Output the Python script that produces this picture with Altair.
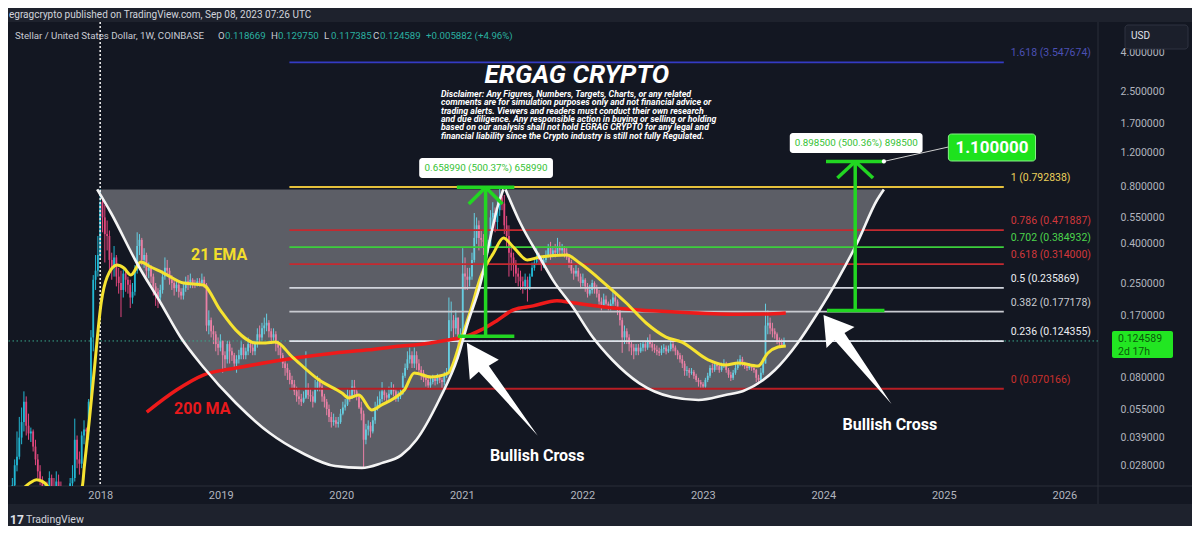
import altair as alt
import numpy as np
import pandas as pd

# ---------------- data ----------------
WEEK_START = "2017-04-10"      # weekly candles, XLM/USD
FIRST_OPEN_E4 = 150            # prices below are in units of 1e-4 USD

close_e4 = [
    220, 280, 310, 390, 470, 600, 450, 410, 420, 350,
    300, 260, 235, 180, 200, 195, 240, 215, 205, 230,
    215, 190, 175, 185, 195, 225, 240, 380, 300, 285,
    400, 430, 420, 600, 1300, 2600, 2900, 3500, 6600, 5500,
    4500, 4400, 3300, 3000, 3400, 2700, 2500, 2300, 2800, 2600,
    2450, 2100, 2250, 2900, 3900, 4200, 3300, 3500, 2900, 3000,
    2700, 2400, 2250, 2100, 2300, 2700, 3000, 2900, 2600, 2500,
    2350, 2450, 2250, 2150, 2350, 2550, 2450, 2600, 2500, 2450,
    2550, 2500, 2600, 2450, 1500, 1600, 1400, 1350, 1200, 1150,
    1250, 1050, 1000, 1200, 1100, 1050, 950, 1000, 1050, 1150,
    1050, 1100, 1200, 1150, 1100, 1200, 1350, 1300, 1450, 1500,
    1550, 1400, 1300, 1350, 1200, 1150, 1050, 950, 900, 850,
    780, 740, 680, 640, 620, 600, 630, 700, 650, 640,
    600, 700, 760, 720, 640, 600, 550, 500, 470, 480,
    460, 470, 520, 560, 580, 650, 630, 720, 680, 640,
    560, 520, 380, 430, 450, 420, 480, 560, 580, 620,
    680, 650, 630, 660, 700, 680, 620, 640, 660, 820,
    900, 1000, 1050, 950, 1050, 950, 880, 850, 800, 780,
    730, 760, 790, 770, 800, 780, 760, 820, 850, 1600,
    1600, 1450, 1650, 1250, 1300, 2800, 2700, 2600, 2700, 3300,
    4300, 5000, 4300, 4200, 4100, 3800, 3900, 5500, 5800, 5200,
    6000, 7000, 6500, 5000, 4400, 3600, 3400, 3100, 2800, 2700,
    2550, 2400, 2600, 2350, 2700, 3000, 3200, 3400, 3300, 3100,
    3300, 3500, 3800, 3500, 3700, 3600, 3900, 3700, 3800, 3600,
    3400, 3200, 2900, 2800, 2900, 2700, 2500, 2600, 2400, 2200,
    2300, 2500, 2350, 2200, 2000, 1900, 2050, 1950, 1850, 1950,
    2100, 2000, 1800, 1600, 1300, 1400, 1300, 1200, 1150, 1100,
    1150, 1100, 1150, 1200, 1150, 1250, 1200, 1150, 1120, 1100,
    1080, 1130, 1150, 1100, 1130, 1200, 1150, 1100, 1050, 1000,
    950, 870, 880, 850, 860, 820, 780, 760, 740, 720,
    780, 820, 900, 880, 940, 920, 880, 920, 950, 880,
    830, 800, 850, 900, 940, 1000, 950, 920, 900, 920,
    900, 880, 800, 780, 850, 950, 1500, 1550, 1450, 1400,
    1350, 1250, 1220, 1186.69, 1245.89]

high_e4 = [
    240, 300, 420, 500, 560, 680, 640, 520, 440, 430,
    380, 320, 280, 245, 220, 230, 260, 250, 240, 260,
    250, 230, 210, 200, 215, 240, 280, 490, 400, 330,
    420, 480, 440, 620, 1420, 2750, 3500, 4400, 7700, 7000,
    6400, 5300, 4700, 3600, 3900, 3500, 3000, 2900, 2950, 2900,
    2700, 2600, 2500, 3100, 4600, 4500, 4300, 3800, 3600, 3200,
    3100, 2800, 2500, 2350, 2450, 2900, 3400, 3300, 3000, 2750,
    2600, 2600, 2500, 2350, 2500, 2700, 2750, 2800, 2650, 2600,
    2650, 2650, 2800, 2700, 2500, 1800, 1650, 1500, 1400, 1300,
    1350, 1250, 1100, 1250, 1250, 1150, 1080, 1050, 1120, 1250,
    1200, 1150, 1300, 1250, 1200, 1250, 1450, 1500, 1550, 1650,
    1730, 1600, 1450, 1450, 1400, 1250, 1200, 1080, 1000, 950,
    880, 820, 780, 720, 700, 660, 680, 1100, 750, 700,
    680, 780, 820, 800, 740, 660, 620, 580, 530, 520,
    500, 500, 550, 600, 620, 700, 690, 780, 780, 700,
    660, 600, 540, 460, 480, 470, 500, 600, 640, 680,
    760, 700, 670, 720, 760, 740, 700, 680, 700, 850,
    950, 1100, 1150, 1100, 1150, 1100, 1000, 920, 880, 830,
    800, 800, 830, 820, 840, 830, 800, 860, 900, 2100,
    2000, 1700, 1800, 1650, 1450, 3800, 3400, 3000, 3000, 3600,
    5800, 5500, 5300, 4700, 4500, 4300, 4200, 6000, 6600, 6200,
    6800, 7900, 7600, 7200, 5600, 5000, 4000, 3600, 3300, 3000,
    2900, 2700, 2800, 2700, 2800, 3200, 3400, 3800, 3600, 3400,
    3500, 3700, 4000, 4100, 3900, 4000, 4300, 4100, 4000, 3900,
    3800, 3500, 3300, 3000, 3100, 3000, 2800, 2800, 2650, 2500,
    2450, 2600, 2550, 2450, 2300, 2100, 2200, 2150, 2000, 2050,
    2300, 2250, 2050, 1850, 1650, 1500, 1450, 1350, 1250, 1200,
    1200, 1200, 1220, 1250, 1250, 1300, 1350, 1250, 1200, 1180,
    1150, 1180, 1200, 1180, 1180, 1260, 1230, 1180, 1120, 1080,
    1050, 980, 920, 900, 900, 880, 840, 800, 780, 760,
    800, 850, 930, 950, 980, 960, 940, 960, 1000, 970,
    900, 860, 880, 950, 1000, 1050, 1030, 970, 950, 950,
    940, 920, 890, 830, 900, 1020, 1950, 1800, 1650, 1550,
    1450, 1380, 1300, 1280, 1297.50]

low_e4 = [
    140, 200, 260, 300, 360, 420, 400, 380, 370, 330,
    280, 240, 220, 160, 150, 180, 185, 200, 190, 195,
    200, 170, 150, 160, 175, 185, 210, 230, 270, 250,
    270, 360, 330, 380, 560, 1100, 2300, 2700, 3300, 4600,
    3200, 3700, 2900, 2600, 2700, 2400, 2200, 1660, 2100, 2250,
    2200, 1850, 1950, 2150, 2800, 3500, 3100, 3000, 2700, 2650,
    2500, 2150, 1900, 1850, 2000, 2200, 2600, 2700, 2450, 2300,
    2150, 2250, 2100, 2050, 2050, 2250, 2300, 2350, 2350, 2350,
    2400, 2400, 2450, 2350, 1400, 1350, 1300, 1200, 1100, 1050,
    1100, 850, 900, 950, 950, 980, 880, 850, 950, 1000,
    1000, 1000, 1050, 1080, 1050, 1050, 1150, 1200, 1250, 1350,
    1400, 1300, 1200, 1250, 1100, 1050, 1000, 900, 820, 780,
    740, 700, 650, 600, 580, 570, 590, 620, 620, 600,
    560, 590, 680, 680, 600, 560, 510, 470, 440, 450,
    440, 440, 460, 510, 540, 570, 600, 620, 650, 610,
    550, 480, 270, 360, 400, 390, 410, 460, 540, 570,
    600, 610, 600, 610, 650, 640, 600, 600, 620, 650,
    800, 880, 950, 900, 900, 880, 850, 780, 760, 720,
    700, 700, 740, 730, 740, 750, 700, 730, 800, 850,
    1400, 1300, 1350, 1000, 1150, 1300, 2300, 2300, 2400, 2600,
    3200, 4000, 3700, 3800, 3500, 3500, 3600, 3800, 5000, 4600,
    4700, 5600, 6000, 4500, 3800, 2700, 2900, 2700, 2500, 2400,
    2300, 2200, 2300, 2000, 2300, 2700, 2900, 3100, 3100, 2900,
    3000, 3200, 3400, 3300, 3400, 3400, 3500, 3500, 3500, 3400,
    3300, 3000, 2800, 2600, 2700, 2550, 2350, 2400, 2250, 2100,
    2150, 2200, 2200, 2100, 1850, 1800, 1850, 1900, 1800, 1800,
    1900, 1900, 1700, 1500, 1080, 1200, 1200, 1100, 1050, 1000,
    1050, 1050, 1080, 1100, 1100, 1120, 1150, 1100, 1080, 1050,
    1040, 1050, 1080, 1060, 1080, 1100, 1100, 1050, 1000, 960,
    900, 820, 820, 800, 830, 790, 760, 720, 710, 700,
    710, 760, 800, 850, 860, 880, 850, 860, 900, 850,
    800, 770, 780, 830, 880, 920, 920, 890, 870, 880,
    870, 850, 760, 740, 770, 830, 1000, 1350, 1350, 1300,
    1280, 1200, 1150, 1150, 1173.85]

# 21 EMA (yellow) and 200 MA (red), read as (decimal year, price)
ema_year = [2017.334, 2017.416, 2017.474, 2017.540, 2017.622, 2017.786, 2017.852, 2017.868,
            2017.910, 2017.951, 2018.008, 2018.058, 2018.140, 2018.197, 2018.255, 2018.337,
            2018.419, 2018.526, 2018.691, 2018.855, 2018.995, 2019.126, 2019.291, 2019.373,
            2019.455, 2019.595, 2019.817, 2020.006, 2020.064, 2020.146, 2020.253, 2020.335,
            2020.442, 2020.524, 2020.606, 2020.746, 2020.886, 2020.993, 2021.075, 2021.157,
            2021.264, 2021.346, 2021.428, 2021.544, 2021.650, 2021.872, 2021.979, 2022.201,
            2022.366, 2022.530, 2022.695, 2022.826, 2023.048, 2023.188, 2023.295, 2023.459,
            2023.541, 2023.624, 2023.689]
ema_price = [0.0203, 0.0226, 0.0235, 0.0226, 0.0196, 0.0192, 0.0218, 0.0274,
             0.0482, 0.0879, 0.1966, 0.2687, 0.3103, 0.2994, 0.2752, 0.3217,
             0.3030, 0.2819, 0.2500, 0.2440, 0.181, 0.142, 0.1216, 0.1216,
             0.1230, 0.1027, 0.0779, 0.0666, 0.0628, 0.0651, 0.0543, 0.0577,
             0.0628, 0.0691, 0.0847, 0.0808, 0.0847, 0.126, 0.181, 0.2687,
             0.3585, 0.4293, 0.3853, 0.330, 0.3417, 0.3500, 0.3179, 0.2440,
             0.1966, 0.1546, 0.1306, 0.1230, 0.0991, 0.0933, 0.0956, 0.0922,
             0.1078, 0.1159, 0.1173]
ma_year = [2018.386, 2018.633, 2018.855, 2019.126, 2019.406, 2019.677, 2019.949, 2020.228,
           2020.499, 2020.606, 2020.886, 2021.017, 2021.157, 2021.297, 2021.428, 2021.593,
           2021.790, 2021.922, 2022.201, 2022.472, 2022.743, 2023.295, 2023.517, 2023.689]
ma_price = [0.0530, 0.0691, 0.0827, 0.0900, 0.0967, 0.1027, 0.1078, 0.112,
            0.1173, 0.1187, 0.126, 0.1306, 0.142, 0.160, 0.181, 0.190,
            0.202, 0.197, 0.187, 0.181, 0.177, 0.172, 0.1722, 0.1743]

# the two drawn "cups" (decimal year, price); the fill reaches up to CUP_TOP
CUP_TOP = 0.77
cup1_year = [2017.975, 2018.090, 2018.304, 2018.502, 2018.666, 2018.855, 2019.126, 2019.406,
             2019.677, 2019.949, 2020.171, 2020.335, 2020.499, 2020.623, 2020.812, 2020.968,
             2021.050, 2021.157, 2021.239, 2021.297, 2021.346]
cup1_price = [0.77, 0.580, 0.318, 0.1966, 0.1306, 0.0911, 0.0591, 0.0412,
              0.0324, 0.0277, 0.0271, 0.0287, 0.0316, 0.0379, 0.0613, 0.1027,
              0.1546, 0.250, 0.4345, 0.6232, 0.77]
cup2_year = [2021.363, 2021.486, 2021.650, 2021.757, 2021.922, 2022.086, 2022.250, 2022.472,
             2022.743, 2022.965, 2023.188, 2023.336, 2023.599, 2023.788, 2023.953, 2024.117,
             2024.281, 2024.446, 2024.503]
cup2_price = [0.77, 0.514, 0.3376, 0.259, 0.1874, 0.1306, 0.0991, 0.0751,
              0.0635, 0.0613, 0.0651, 0.0683, 0.0879, 0.1216, 0.1743, 0.259,
              0.4043, 0.678, 0.77]

# Fibonacci levels
fib_ratio = ["1.618", "1", "0.786", "0.702", "0.618", "0.5", "0.382", "0.236", "0"]
fib_price = [3.547674, 0.792838, 0.471887, 0.384932, 0.314000, 0.235869, 0.177178, 0.124355, 0.070166]
FIB_FROM, FIB_TO, FIB_LABEL_AT = 2019.570, 2025.498, 2025.555

# measured moves (start price, move) and their anchors in time
move_start = [0.13170, 0.17957]
move_size = [0.658990, 0.898500]
move_pct = ["500.37%", "500.36%"]
move_time = [2021.198, 2024.265]
move_half_width = [0.2385, 0.2425]
TARGET = 1.100000

last_price = 0.124589
ohlc = {"O": "0.118669", "H": "0.129750", "L": "0.117385", "C": "0.124589"}
change_txt = "+0.005882 (+4.96%)"

y_ticks = [4.0, 2.5, 1.7, 1.2, 0.8, 0.55, 0.4, 0.25, 0.17, 0.08, 0.055, 0.039, 0.028]
x_ticks = [2018, 2019, 2020, 2021, 2022, 2023, 2024, 2025, 2026]

disclaimer = ("Disclaimer: Any Figures, Numbers, Targets, Charts, or any related\n"
              "comments are for simulation purposes only and not financial advice or\n"
              "trading alerts. Viewers and readers must conduct their own research\n"
              "and due diligence. Any responsible action in buying or selling or holding\n"
              "based on our analysis shall not hold EGRAG CRYPTO for any legal and\n"
              "financial liability since the Crypto industry is still not fully Regulated.")

# ---------------- styles ----------------
BG = "#131722"
BAND = "#1e222d"
UP, DN = "#22b7d3", "#e0477d"
fib_line_color = ["#343bc4", "#e6c13c", "#c42a30", "#3ccf3c", "#c42a30", "#d1d4dc", "#c9cbd1", "#e0e3eb", "#b81e24"]
fib_text_color = ["#4b50b4", "#edd15a", "#d2373c", "#4cd44c", "#d2373c", "#eceef2", "#c9cbd1", "#eceef2", "#c9302c"]
GREEN = "#22d622"
FONT = "Roboto"

# ---------------- tables ----------------
n = min(len(close_e4), len(high_e4), len(low_e4))
dates = pd.date_range(WEEK_START, periods=n, freq="7D")
days_in_year = np.where(dates.is_leap_year, 366.0, 365.0)
t = dates.year + (dates.dayofyear - 1) / days_in_year
c = np.array(close_e4[:n], dtype=float) / 1e4
o = np.concatenate([[FIRST_OPEN_E4 / 1e4], c[:-1]])
h = np.maximum.reduce([np.array(high_e4[:n], dtype=float) / 1e4, o, c])
lo = np.minimum.reduce([np.array(low_e4[:n], dtype=float) / 1e4, o, c])
candles = pd.DataFrame({"t": t, "o": o, "h": h, "l": lo, "c": c})

ema_df = pd.DataFrame({"t": ema_year, "p": ema_price})
ma_df = pd.DataFrame({"t": ma_year, "p": ma_price})
cups = pd.concat([
    pd.DataFrame({"t": cup1_year, "p": cup1_price, "cup": "a"}),
    pd.DataFrame({"t": cup2_year, "p": cup2_price, "cup": "b"}),
])
cups["top"] = CUP_TOP

fib_df = pd.DataFrame({
    "p": fib_price,
    "x0": FIB_FROM, "x1": FIB_TO, "xl": FIB_LABEL_AT,
    "lab": [f"{r} ({v:.6f})" for r, v in zip(fib_ratio, fib_price)],
    "lc": fib_line_color, "tc": fib_text_color,
})

# measured-move segments
seg_rows = []
head_drop = [0.8170, 0.8191]   # arrow-head wing price relative to top
head_dx = [0.140, 0.148]
for i in range(2):
    lo_p = move_start[i]
    hi_p = move_start[i] + move_size[i]
    tm = move_time[i]
    hw = move_half_width[i]
    seg_rows += [
        dict(x=tm, x2=tm, y=lo_p, y2=hi_p),
        dict(x=tm - hw + 0.008, x2=tm + hw, y=lo_p, y2=lo_p),
        dict(x=tm - hw, x2=tm + hw, y=hi_p, y2=hi_p),
        dict(x=tm, x2=tm - head_dx[i], y=hi_p, y2=hi_p * head_drop[i]),
        dict(x=tm, x2=tm + head_dx[i], y=hi_p, y2=hi_p * head_drop[i]),
    ]
segs = pd.DataFrame(seg_rows)

labels_df = pd.DataFrame({
    "x0": [2020.647, 2023.722], "x1": [2021.757, 2024.824],
    "p0": [0.8831, 1.1927], "p1": [1.123, 1.5166],
    "tx": [2021.202, 2024.273], "tp": [0.9959, 1.345],
    "s": [f"{move_size[i]:.6f} ({move_pct[i]}) {round(move_size[i]*1e6)}" for i in range(2)],
})

# ---------------- scales & axes ----------------
XS = alt.Scale(domain=[2017.2765, 2026.2381], nice=False, zero=False)
YS = alt.Scale(type="log", domain=[0.02180, 5.759], nice=False)

x_axis = alt.Axis(values=x_ticks, format="d", labelColor="#b2b5be", labelFontSize=11,
                  labelFont=FONT, domain=False, ticks=False, grid=False, title=None,
                  labelPadding=3, labelOverlap=False, labelFlush=False)
y_axis = alt.Axis(orient="right", values=y_ticks, format=".6f", labelColor="#b2b5be",
                  labelFontSize=10.5, labelFont=FONT, labelAlign="left", labelPadding=22,
                  domain=False, ticks=False, grid=False, title=None, labelOverlap=False,
                  labelFlush=False)


def XQ(f):
    return alt.X(f, type="quantitative", scale=XS, axis=x_axis)


def YQ(f):
    return alt.Y(f, type="quantitative", scale=YS, axis=y_axis)


one = pd.DataFrame({"k": [0]})


def ui_text(txt, x, y, color="#d1d4dc", size=10, weight="normal", style="normal",
            align="left", baseline="middle"):
    return alt.Chart(one).mark_text(text=txt, align=align, baseline=baseline, font=FONT,
                                    fontSize=size, fontWeight=weight, fontStyle=style,
                                    color=color).encode(x=alt.value(x), y=alt.value(y))


def ui_rect(x0, x1, y0, y1, fill, stroke=None, radius=0):
    kw = dict(fill=fill, cornerRadius=radius)
    if stroke:
        kw.update(stroke=stroke, strokeWidth=1)
    else:
        kw.update(strokeWidth=0)
    return alt.Chart(one).mark_rect(**kw).encode(
        x=alt.value(x0), x2=alt.value(x1), y=alt.value(y0), y2=alt.value(y1))


def ui_line(x0, x1, y0, y1, color, width=1):
    return alt.Chart(one).mark_rule(color=color, strokeWidth=width).encode(
        x=alt.value(x0), x2=alt.value(x1), y=alt.value(y0), y2=alt.value(y1))


def data_text(txt, tx, tp, color, size, weight="bold", style="normal", align="center",
              baseline="middle", **kw):
    d = pd.DataFrame({"t": [tx], "p": [tp], "s": [txt]})
    return alt.Chart(d).mark_text(align=align, baseline=baseline, font=FONT, fontSize=size,
                                  fontWeight=weight, fontStyle=style, color=color, **kw).encode(
        x=XQ("t"), y=YQ("p"), text="s:N")


up_cond = alt.condition("datum.c >= datum.o", alt.value(UP), alt.value(DN))

# ---------------- layers ----------------
layers = []
# chrome bands
layers.append(ui_rect(-8, 1192, -30, 0, BAND))
layers.append(ui_rect(-8, 1192, 482, 520, BAND))
layers.append(ui_line(1090, 1090, 0, 482, "#2a2e39"))
layers.append(ui_line(0, 1184, 464, 464, "#2a2e39"))

# candles
layers.append(alt.Chart(candles).mark_rule(strokeWidth=1, clip=True).encode(
    x=XQ("t"), y=YQ("l"), y2="h:Q", color=up_cond))
layers.append(alt.Chart(candles).mark_bar(size=1.8, clip=True).encode(
    x=XQ("t"), y=YQ("o"), y2="c:Q", color=up_cond))

# vertical dotted year marker
layers.append(alt.Chart(pd.DataFrame({"t": [2018.0]})).mark_rule(
    color="#e6e6e6", strokeWidth=1.6, strokeDash=[2, 2]).encode(x=XQ("t")))

# cup fills
layers.append(alt.Chart(cups).mark_area(color="#ffffff", opacity=0.31, interpolate="monotone",
                                        clip=True).encode(
    x=XQ("t"), y=YQ("p"), y2="top:Q", detail="cup:N"))

# current price line
layers.append(alt.Chart(pd.DataFrame({"p": [last_price]})).mark_rule(
    color="#3aa88c", strokeWidth=1, strokeDash=[1.5, 2.5]).encode(y=YQ("p")))

# fib levels
layers.append(alt.Chart(fib_df).mark_rule(strokeWidth=1.8).encode(
    x=XQ("x0"), x2="x1:Q", y=YQ("p"), color=alt.Color("lc:N", scale=None)))
layers.append(alt.Chart(fib_df).mark_text(align="left", baseline="middle", dy=-9, font=FONT,
                                          fontSize=10.5).encode(
    x=XQ("xl"), y=YQ("p"), text="lab:N", color=alt.Color("tc:N", scale=None)))

# moving averages
layers.append(alt.Chart(ma_df).mark_line(color="#ee1a1a", strokeWidth=3.5, interpolate="monotone",
                                         clip=True).encode(x=XQ("t"), y=YQ("p")))
layers.append(alt.Chart(ema_df).mark_line(color="#f6e331", strokeWidth=3, interpolate="monotone",
                                          clip=True).encode(x=XQ("t"), y=YQ("p")))

# cup outlines
layers.append(alt.Chart(cups).mark_line(color="#f4f4f4", strokeWidth=2.6, interpolate="monotone",
                                        clip=True).encode(x=XQ("t"), y=YQ("p"), detail="cup:N"))

# measured moves
layers.append(alt.Chart(segs).mark_rule(color=GREEN, strokeWidth=3.5).encode(
    x=XQ("x"), x2="x2:Q", y=YQ("y"), y2="y2:Q"))
layers.append(alt.Chart(labels_df).mark_rect(color="#ffffff", cornerRadius=3).encode(
    x=XQ("x0"), x2="x1:Q", y=YQ("p0"), y2="p1:Q"))
layers.append(alt.Chart(labels_df).mark_text(color="#35c235", font=FONT, fontSize=9.8,
                                             baseline="middle").encode(
    x=XQ("tx"), y=YQ("tp"), text="s:N"))

# target callout
tgt_top = move_start[1] + move_size[1]
layers.append(alt.Chart(pd.DataFrame({"t": [2024.503], "p": [tgt_top], "t2": [2025.038],
                                      "p2": [1.2818]})).mark_rule(
    color="#cfcfcf", strokeWidth=1).encode(x=XQ("t"), x2="t2:Q", y=YQ("p"), y2="p2:Q"))
layers.append(alt.Chart(pd.DataFrame({"t": [2024.503], "p": [tgt_top]})).mark_point(
    filled=True, color="#ffffff", size=18, opacity=1).encode(x=XQ("t"), y=YQ("p")))
layers.append(alt.Chart(pd.DataFrame({"x0": [2025.038], "x1": [2025.761], "p0": [1.0833],
                                      "p1": [1.4986]})).mark_rect(
    fill="#1ee21e", stroke="#86f086", strokeWidth=1, cornerRadius=3).encode(
    x=XQ("x0"), x2="x1:Q", y=YQ("p0"), y2="p1:Q"))
layers.append(data_text(f"{TARGET:.6f}", 2025.400, 1.2742, "#ffffff", 17))

# big white arrows
ARROW1 = "M0,0 L32,17 L22,23 L71,93 L12,29 L3,37 Z"
ARROW2 = "M0,0 L31,12 L21,18 L68,89 L11,25 L3,33 Z"
layers.append(alt.Chart(pd.DataFrame({"t": [2021.042], "p": [0.1220]})).mark_point(
    shape=ARROW1, size=4, filled=True, color="#ffffff", opacity=1, strokeWidth=0).encode(
    x=XQ("t"), y=YQ("p")))
layers.append(alt.Chart(pd.DataFrame({"t": [2024.002], "p": [0.1702]})).mark_point(
    shape=ARROW2, size=4, filled=True, color="#ffffff", opacity=1, strokeWidth=0).encode(
    x=XQ("t"), y=YQ("p")))

# annotation texts
layers.append(data_text("21 EMA", 2018.987, 0.350, "#f3de2c", 16))
layers.append(data_text("200 MA", 2018.847, 0.0550, "#e8191c", 16))
layers.append(data_text("Bullish Cross", 2021.626, 0.0313, "#ffffff", 16))
layers.append(data_text("Bullish Cross", 2024.553, 0.0454, "#ffffff", 16))
layers.append(data_text("ERGAG CRYPTO", 2021.955, 3.046, "#ffffff", 26, style="italic"))
layers.append(data_text(disclaimer, 2020.828, 2.543, "#ffffff", 8.8, style="italic",
                        align="left", baseline="top", lineBreak="\n", lineHeight=8.3))

# header / legend / price-scale chrome
layers.append(ui_text("egragcrypto published on TradingView.com, Sep 08, 2023 07:26 UTC",
                      1, -7, "#d1d4dc", 10))
layers.append(ui_text("Stellar / United States Dollar, 1W, COINBASE", 7, 14, "#c8cad2", 9.7))
ohlc_x = {"O": 210, "H": 263, "L": 316, "C": 365}
for k, v in ohlc.items():
    layers.append(ui_text(k, ohlc_x[k], 14, "#c8cad2", 9.7))
    layers.append(ui_text(v, ohlc_x[k] + 7, 14, "#2ab0a0", 9.7))
layers.append(ui_text(change_txt, 418, 14, "#2ab0a0", 9.7))

layers.append(ui_rect(1117, 1180, 3, 27, "#1b1f2b", stroke="#2f3340", radius=3))
layers.append(ui_text("USD", 1123, 14, "#e0e3eb", 10))
layers.append(ui_rect(1104, 1165, 309, 336, "#22e622", radius=2))
layers.append(ui_text(f"{last_price:.6f}", 1110, 317, "#0a5a0a", 10.5))
layers.append(ui_text("2d 17h", 1110, 330, "#0a5a0a", 10.5))

layers.append(ui_text("17", 2, 498, "#e0e3eb", 12, weight="bold"))
layers.append(ui_text("TradingView", 18, 498, "#d1d4dc", 10.5))

chart = alt.layer(*layers).properties(
    width=1090, height=464,
    padding={"left": 0, "top": 14, "right": 94, "bottom": 40},
    autosize=alt.AutoSizeParams(type="none"),
    background=BG,
).configure_view(strokeWidth=0)

chart.save("out.html", embed_options={"renderer": "svg", "actions": False})
